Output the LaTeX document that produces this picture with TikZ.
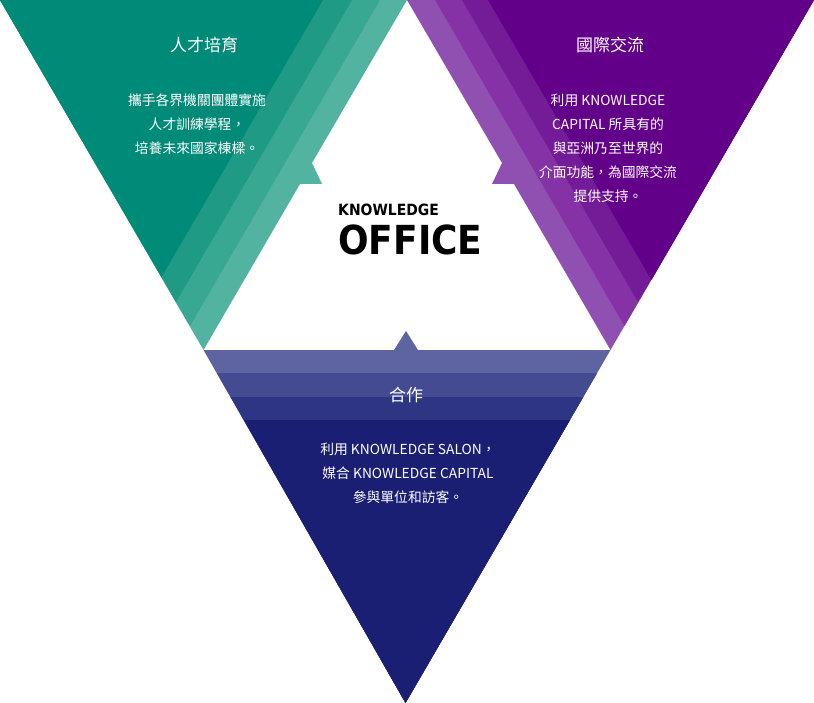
\documentclass[tikz,border=0pt]{standalone}
\usepackage{fontspec}
\setmainfont{Noto Sans CJK TC}
\newfontfamily\logofont{DejaVu Sans Condensed}
\definecolor{gA}{HTML}{008A78}
\definecolor{gB}{HTML}{1E9A85}
\definecolor{gC}{HTML}{38A893}
\definecolor{gD}{HTML}{52B3A0}
\definecolor{pA}{HTML}{62008A}
\definecolor{pB}{HTML}{741C98}
\definecolor{pC}{HTML}{8532A6}
\definecolor{pD}{HTML}{9050B2}
\definecolor{bA}{HTML}{1A1F73}
\definecolor{bB}{HTML}{2E3582}
\definecolor{bC}{HTML}{454B91}
\definecolor{bD}{HTML}{5E64A0}
\tikzset{title/.style={text=white,font=\fontsize{17}{19}\selectfont},
 body/.style={text=white,font=\fontsize{13.8}{24}\selectfont,align=center}}
\begin{document}
\begin{tikzpicture}[x=1pt,y=-1pt]
\useasboundingbox (0,0) rectangle (814,703);
% green
\fill[gD] (0,0) -- (407,0) -- (312,163) -- (322,184) -- (300,184) -- (203.5,350) -- cycle;
\fill[gC] (0,0) -- (380,0) -- (190,326) -- cycle;
\fill[gB] (0,0) -- (352,0) -- (176,302) -- cycle;
\fill[gA] (0,0) -- (323,0) -- (161.5,277) -- cycle;
% purple
\fill[pD] (814,0) -- (407,0) -- (502,163) -- (492,184) -- (514,184) -- (610.5,350) -- cycle;
\fill[pC] (814,0) -- (435,0) -- (624.5,326) -- cycle;
\fill[pB] (814,0) -- (462,0) -- (638,302) -- cycle;
\fill[pA] (814,0) -- (488,0) -- (651.5,280) -- cycle;
% blue
\fill[bD] (203.5,350) -- (394,350) -- (406,331) -- (418,350) -- (610.5,350) -- (405.5,703) -- cycle;
\fill[bC] (216.8,373) -- (597.2,373) -- (405.5,703) -- cycle;
\fill[bB] (230.7,397) -- (583.3,397) -- (405.5,703) -- cycle;
\fill[bA] (244,420) -- (570,420) -- (405.5,703) -- cycle;
% texts
\node[title] (t1) at (204,45) {人才培育};
\node[body] (b1) at (197,124) {攜手各界機關團體實施\\人才訓練學程，\\培養未來國家棟樑。};
\node[title] (t2) at (610,45) {國際交流};
\node[body] (b2) at (608,148) {利用 KNOWLEDGE\\CAPITAL 所具有的\\與亞洲乃至世界的\\介面功能，為國際交流\\提供支持。};
\node[title] (t3) at (406,395) {合作};
\node[body] (b3) at (408,473) {利用 KNOWLEDGE SALON，\\媒合 KNOWLEDGE CAPITAL\\參與單位和訪客。};
\node[anchor=base west,inner sep=0,font=\logofont\bfseries\fontsize{15.5}{15}\selectfont] (k1) at (338,216) {KNOWLEDGE};
\node[anchor=base west,inner sep=0,font=\logofont\bfseries\fontsize{40}{40}\selectfont] (k2) at (338,255) {OFFICE};
\end{tikzpicture}
\end{document}
